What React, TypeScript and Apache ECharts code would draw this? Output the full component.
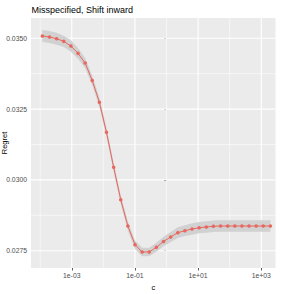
import React, { useEffect, useRef } from "react";
import * as echarts from "echarts";

const cValues = [
  1.175e-4, 1.976e-4, 3.32e-4, 5.58e-4, 9.38e-4, 1.578e-3, 2.65e-3, 4.46e-3,
  7.5e-3, 0.01259, 0.0212, 0.0356, 0.0598, 0.1007, 0.169, 0.284, 0.478, 0.804,
  1.352, 2.27, 3.82, 6.43, 10.8, 18.2, 30.5, 51.3, 86.3, 145, 244, 409, 689,
  1158, 1945,
];
const regret = [
  0.035081, 0.035046, 0.034986, 0.034894, 0.034728, 0.03447, 0.034128, 0.03351,
  0.03274, 0.031681, 0.030445, 0.029301, 0.028372, 0.027712, 0.027454,
  0.027454, 0.02762, 0.027825, 0.027984, 0.028136, 0.028206, 0.028266,
  0.028312, 0.028337, 0.028362, 0.028372, 0.028372, 0.028372, 0.028372,
  0.028372, 0.028372, 0.028372, 0.028372,
];
const bandHalf = [
  0.00021, 0.00021, 0.00021, 0.0002, 0.0002, 0.00019, 0.00018, 0.00017,
  0.00017, 0.00016, 0.00016, 0.00016, 0.00016, 0.00015, 0.00015, 0.00015,
  0.00016, 0.00017, 0.00018, 0.00019, 0.00019, 0.0002, 0.0002, 0.0002, 0.0002,
  0.0002, 0.0002, 0.0002, 0.0002, 0.0002, 0.0002, 0.0002, 0.0002,
];
const xMajorTicks = [-3, -1, 1, 3];
const xMajorLabels = ["1e-03", "1e-01", "1e+01", "1e+03"];
const xMinorTicks = [-4, -2, 0, 2];
const yMajorTicks = [0.0275, 0.03, 0.0325, 0.035];
const yMinorTicks = [0.02875, 0.03125, 0.03375];

const X_MIN = -4.29;
const X_MAX = 3.45;
const Y_MIN = 0.026889;
const Y_MAX = 0.035717;

const FONT = "Liberation Sans, Arial, Helvetica, sans-serif";

export default function App() {
  const ref = useRef<HTMLDivElement>(null);
  useEffect(() => {
    if (!ref.current) return;
    const chart = echarts.init(ref.current, undefined, { renderer: "svg" });
    const lx = cValues.map((c) => Math.log10(c));
    const main = lx.map((x, i) => [x, regret[i]]);
    const bandData = lx.map((x, i) => [x, regret[i] - bandHalf[i], regret[i] + bandHalf[i]]);

    const gridRender = (params: any, api: any) => {
      if (params.dataIndex !== 0) return null;
      const children: any[] = [];
      const vline = (v: number, w: number) => {
        const a = api.coord([v, Y_MIN]);
        const b = api.coord([v, Y_MAX]);
        children.push({
          type: "line",
          shape: { x1: a[0], y1: a[1], x2: b[0], y2: b[1] },
          style: { stroke: "#ffffff", lineWidth: w },
        });
      };
      const hline = (v: number, w: number) => {
        const a = api.coord([X_MIN, v]);
        const b = api.coord([X_MAX, v]);
        children.push({
          type: "line",
          shape: { x1: a[0], y1: a[1], x2: b[0], y2: b[1] },
          style: { stroke: "#ffffff", lineWidth: w },
        });
      };
      xMinorTicks.forEach((v) => vline(v, 0.55));
      yMinorTicks.forEach((v) => hline(v, 0.55));
      xMajorTicks.forEach((v) => vline(v, 1.1));
      yMajorTicks.forEach((v) => hline(v, 1.1));
      return { type: "group", children };
    };

    const bandRender = (params: any, api: any) => {
      if (params.dataIndex !== 0) return null;
      const upper = bandData.map((d) => api.coord([d[0], d[2]]));
      const lower = bandData.map((d) => api.coord([d[0], d[1]])).reverse();
      return {
        type: "polygon",
        shape: { points: upper.concat(lower) },
        style: { fill: "#D1D1D1", stroke: "none" },
      };
    };

    chart.setOption({
      animation: false,
      backgroundColor: "#ffffff",
      title: {
        text: "Misspecified, Shift inward",
        left: 31.5,
        top: 5.5,
        padding: 0,
        textStyle: { fontFamily: FONT, fontSize: 9, fontWeight: "normal", color: "#000000" },
      },
      graphic: [
        {
          type: "text",
          x: 4.5,
          y: 143,
          rotation: Math.PI / 2,
          style: {
            text: "Regret",
            fontFamily: FONT,
            fontSize: 7.5,
            fill: "#000000",
            align: "center",
            verticalAlign: "middle",
          },
        },
      ],
      grid: {
        left: 31,
        right: 5.5,
        top: 18,
        bottom: 26,
        containLabel: false,
        outerBoundsMode: "none",
        show: true,
        backgroundColor: "#EBEBEB",
        borderWidth: 0,
      },
      xAxis: {
        type: "value",
        min: X_MIN,
        max: X_MAX,
        name: "c",
        nameLocation: "middle",
        nameGap: 11.5,
        nameTextStyle: { fontFamily: FONT, fontSize: 7.5, color: "#000000" },
        axisLine: { show: false },
        splitLine: { show: false },
        axisTick: {
          show: true,
          length: 2.5,
          lineStyle: { color: "#333333", width: 0.8 },
          customValues: xMajorTicks,
        },
        axisLabel: {
          customValues: xMajorTicks,
          margin: 4,
          fontFamily: FONT,
          fontSize: 6.8,
          color: "#4D4D4D",
          formatter: (v: number) => {
            const i = xMajorTicks.indexOf(Math.round(v));
            return i >= 0 ? xMajorLabels[i] : "";
          },
        },
      },
      yAxis: {
        type: "value",
        min: Y_MIN,
        max: Y_MAX,
        axisLine: { show: false },
        splitLine: { show: false },
        axisTick: {
          show: true,
          length: 2.5,
          lineStyle: { color: "#333333", width: 0.8 },
          customValues: yMajorTicks,
        },
        axisLabel: {
          customValues: yMajorTicks,
          margin: 4,
          fontFamily: FONT,
          fontSize: 6.8,
          color: "#4D4D4D",
          formatter: (v: number) => v.toFixed(4),
        },
      },
      series: [
        {
          type: "custom",
          renderItem: gridRender,
          data: main,
          silent: true,
          clip: true,
          z: 1,
        },
        {
          type: "custom",
          renderItem: bandRender,
          data: main,
          silent: true,
          clip: true,
          z: 2,
        },
        {
          type: "line",
          data: main,
          symbol: "circle",
          symbolSize: 3.6,
          itemStyle: { color: "#E8675E" },
          lineStyle: { color: "#E8675E", width: 1 },
          silent: true,
          z: 3,
        },
      ],
    });
    return () => chart.dispose();
  }, []);
  return <div ref={ref} style={{ width: 281, height: 294, position: "absolute", left: 0, top: 0 }} />;
}
